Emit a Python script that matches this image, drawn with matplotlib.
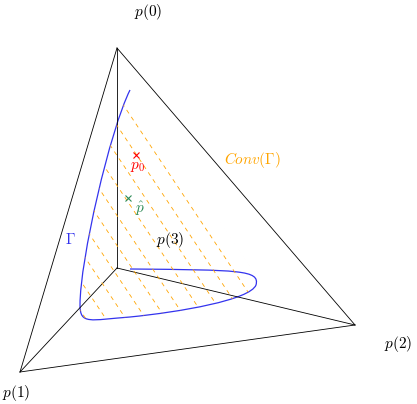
import matplotlib.pyplot as plt
import numpy as np
from matplotlib.path import Path
from matplotlib.patches import PathPatch

plt.rcParams["mathtext.fontset"] = "cm"

# tetrahedron vertices (pixel coords of the drawing)
V0 = (117, 48)
V1 = (20, 372)
V2 = (355, 325)
V3 = (117, 268)
EDGES = [(V0, V1), (V0, V2), (V1, V2), (V3, V0), (V3, V1), (V3, V2)]

# curve Gamma as cubic bezier control points
GAMMA_VERTS = [(130, 90), (110, 130), (80, 260), (80, 305),
               (80, 325), (90, 320), (130, 317),
               (180, 312), (250, 300), (256, 285),
               (260, 270), (240, 270), (130, 269)]
HULL_VERTS = [(130, 90), (110, 130), (80, 260), (80, 305),
              (80, 325), (90, 320), (130, 317),
              (180, 312), (250, 300), (256, 285),
              (258, 278), (257, 275), (254, 273), (130, 90)]

P0 = (136, 155)
PHAT = (128, 198)

fig = plt.figure(figsize=(4.17, 4.04), dpi=100)
ax = fig.add_axes([0, 0, 1, 1])
ax.set_xlim(0, 417)
ax.set_ylim(404, 0)
ax.axis("off")

for a, b in EDGES:
    ax.plot([a[0], b[0]], [a[1], b[1]], color="black", lw=0.6)

codes = [Path.MOVETO] + [Path.CURVE4] * 12
gamma = Path(GAMMA_VERTS, codes)
ax.add_patch(PathPatch(gamma, fill=False, edgecolor="#3333ee", lw=0.9))

hull = Path(HULL_VERTS, [Path.MOVETO] + [Path.CURVE4] * 12 + [Path.LINETO])
hull_patch = PathPatch(hull, fill=False, edgecolor="none")
ax.add_patch(hull_patch)
for c in np.arange(-500, 400, 30):
    x = np.array([0, 417])
    y = 1.5 * x + c
    ln, = ax.plot(x, y, color="orange", lw=0.6, ls=(0, (5, 5)))
    ln.set_clip_path(hull_patch)

ax.plot(*P0, marker="x", color="red", ms=4, mew=0.8)
ax.plot(*PHAT, marker="x", color="seagreen", ms=4, mew=0.8)

fs = 11
ax.text(148, 12, "$p(0)$", fontsize=fs, ha="center", va="center")
ax.text(16, 393, "$p(1)$", fontsize=fs, ha="center", va="center")
ax.text(398, 344, "$p(2)$", fontsize=fs, ha="center", va="center")
ax.text(170, 240, "$p(3)$", fontsize=fs, ha="center", va="center")
ax.text(252, 160, r"$Conv(\Gamma)$", fontsize=fs, color="orange", ha="center", va="center")
ax.text(70, 240, r"$\Gamma$", fontsize=fs, color="#3333ee", ha="center", va="center")
ax.text(138, 166, "$p_0$", fontsize=fs, color="red", ha="center", va="center")
ax.text(140, 209, r"$\hat{p}$", fontsize=fs, color="seagreen", ha="center", va="center")

fig.savefig("out.png", dpi=100)
